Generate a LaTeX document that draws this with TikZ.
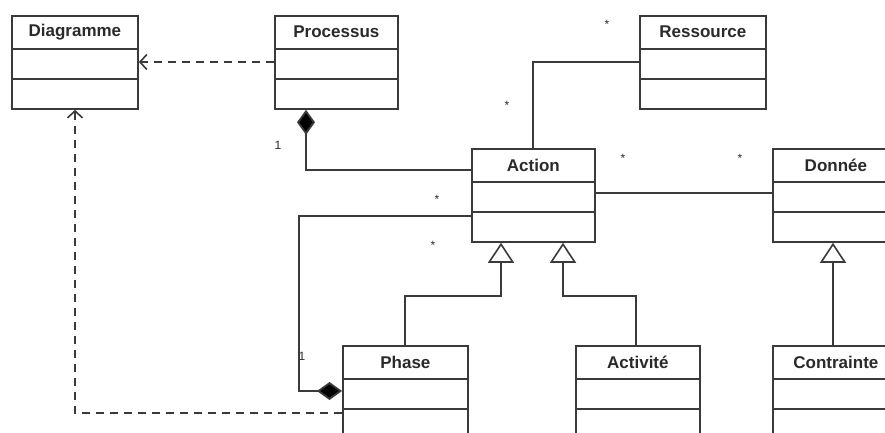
\documentclass[tikz,border=0pt]{standalone}
\usepackage{fontspec}
\setmainfont{Liberation Sans}
\usetikzlibrary{arrows.meta,calc}
\definecolor{ln}{HTML}{3A3A3A}
\definecolor{tx}{HTML}{2A2A2A}
\tikzset{
  classbox/.style={draw=ln, line width=1.8pt, fill=white, inner sep=0pt, minimum height=93pt, anchor=north west},
  classtitle/.style={font=\fontsize{17}{19}\selectfont\bfseries, text=tx, inner sep=0pt},
  conn/.style={draw=ln, line width=1.8pt},
  comp/.style={conn, {Diamond[length=25pt,width=18pt,fill=black]}-},
  gen/.style={conn, -{Triangle[open,length=20pt,width=26pt,fill=white,line width=1.6pt]}},
  dep/.style={conn, dash pattern=on 8pt off 6pt, -{Straight Barb[length=7pt,width=15pt,line width=1.6pt]}},
  mult/.style={font=\fontsize{12}{13}\selectfont, text=tx, inner sep=0pt},
}
\newcommand\umlclass[5]{%
  \node[classbox, minimum width=#4pt] (#1) at (#2,#3) {};
  \node[classtitle] (#1-t) at ([yshift=-17pt]#1.north) {#5};
  \draw[conn] ([yshift=-34pt]#1.north west) -- ([yshift=-34pt]#1.north east);
  \draw[conn] ([yshift=-64pt]#1.north west) -- ([yshift=-64pt]#1.north east);
}
\begin{document}
\begin{tikzpicture}[x=1pt,y=-1pt]
\useasboundingbox (0,0) rectangle (885,433);
\clip (0,0) rectangle (885,433);
\fill[white] (0,0) rectangle (885,433);

\umlclass{diag}{11}{15}{126}{Diagramme}
\umlclass{proc}{274}{15}{123}{Processus}
\umlclass{res}{639}{15}{126}{Ressource}
\umlclass{action}{471}{148}{123}{Action}
\umlclass{donnee}{772}{148}{126}{Donnée}
\umlclass{phase}{342}{345}{125}{Phase}
\umlclass{activite}{575}{345}{124}{Activité}
\umlclass{contrainte}{772}{345}{126}{Contrainte}

% dependencies
\draw[dep] ([yshift=-47pt]proc.north west) -- ([yshift=-47pt]diag.north east);
\draw[dep] ([yshift=-68pt]phase.north west) -| ([xshift=64pt]diag.south west);

% compositions
\draw[comp] ([xshift=32pt]proc.south west) |- ([yshift=-22pt]action.north west);
\draw[comp] ([yshift=-46pt]phase.north west) -- ++(-43pt,0) |- ([yshift=-68pt]action.north west);

% associations
\draw[conn] ([xshift=62pt]action.north west) |- ([yshift=-47pt]res.north west);
\draw[conn] ([yshift=-45pt]action.north east) -- ([yshift=-45pt]donnee.north west);

% generalizations
\draw[gen] ([xshift=63pt]phase.north west) |- ([xshift=30pt,yshift=-53pt]action.south west) -- ([xshift=30pt]action.south west);
\draw[gen] ([xshift=61pt]activite.north west) |- ([xshift=92pt,yshift=-53pt]action.south west) -- ([xshift=92pt]action.south west);
\draw[gen] ([xshift=61pt]contrainte.north west) -- ([xshift=61pt]donnee.south west);

% multiplicities
\node[mult] (m1) at (278,145) {1};
\node[mult] (m2) at (607,24) {*};
\node[mult] (m3) at (507,105) {*};
\node[mult] (m4) at (623,158) {*};
\node[mult] (m5) at (740,158) {*};
\node[mult] (m6) at (437,199) {*};
\node[mult] (m7) at (433,245) {*};
\node[mult] (m8) at (302,356) {1};
\end{tikzpicture}
\end{document}
